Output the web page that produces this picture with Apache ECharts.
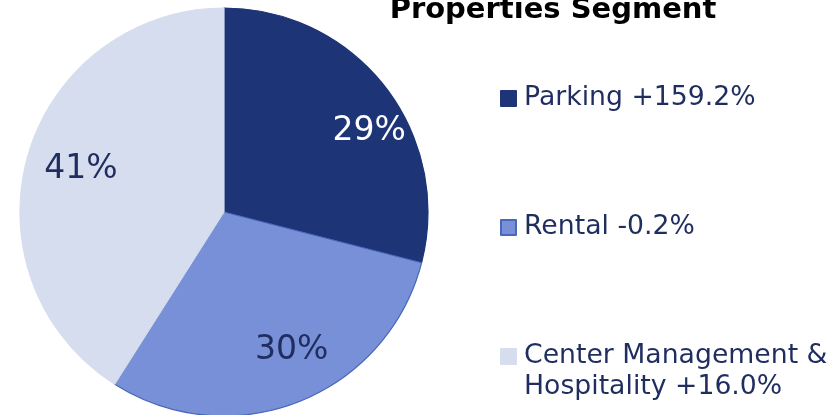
<!DOCTYPE html>
<html>
<head>
<meta charset="utf-8">
<script src="https://cdn.jsdelivr.net/npm/echarts@6/dist/echarts.min.js"></script>
<style>
  html, body { margin: 0; padding: 0; background: #fff; }
  #chart { width: 837px; height: 415px; }
</style>
</head>
<body>
<div id="chart"></div>
<script>
const titleText = 'Properties Segment';
const segments = ['Parking', 'Rental', 'Center Management & Hospitality'];
// a blank first line keeps the icon beside the first line of the last entry
const legendLabels = ['Parking +159.2%', 'Rental -0.2%', ' \nCenter Management &\nHospitality +16.0%'];
const shares = [29, 30, 41];

const colors = ['#1d3476', '#7890d8', '#d5ddee'];
const borders = ['#1d3476', '#4a68b8', '#d5ddee'];
const labelColors = ['#ffffff', '#1f2d5f', '#1f2d5f'];

const cx = 224, cy = 212, R = 204;

const myChart = echarts.init(document.getElementById('chart'));

// how far the slice labels get pushed out from the default half radius
const labelPushX = [1.75, 1.75, 1.42];
const labelPushY = [1.25, 1.42, 1.45];

const option = {
  animation: false,
  title: {
    text: titleText,
    left: 553,
    top: -4,
    padding: 0,
    textAlign: 'center',
    textStyle: { fontFamily: 'DejaVu Sans', fontWeight: 'bold', fontSize: 29, color: '#000' }
  },
  legend: {
    orient: 'vertical',
    left: 500,
    top: 52,
    padding: 0,
    icon: 'rect',
    itemWidth: 15,
    itemHeight: 15,
    itemGap: 36,
    selectedMode: false,
    formatter: name => legendLabels[segments.indexOf(name)],
    textStyle: { fontFamily: 'DejaVu Sans', fontSize: 26.7, color: '#1f2d5f', lineHeight: 31 },
    data: segments.map((n, i) => ({
      name: n,
      textStyle: { padding: i === 2 ? [0, 0, 0, 3] : [31, 0, 31, 3] }
    }))
  },
  series: [{
    type: 'pie',
    center: [cx, cy],
    radius: R,
    startAngle: 90,
    clockwise: true,
    label: {
      position: 'inside',
      formatter: '{d}%',
      fontFamily: 'DejaVu Sans',
      fontSize: 33
    },
    labelLine: { show: false },
    labelLayout: function (p) {
      const r = p.labelRect;
      const lx = r.x + r.width / 2, ly = r.y + r.height / 2;
      const i = p.dataIndex;
      return {
        x: cx + (lx - cx) * labelPushX[i],
        y: cy + (ly - cy) * labelPushY[i],
        align: 'center',
        verticalAlign: 'middle'
      };
    },
    emphasis: { disabled: true },
    data: segments.map((n, i) => ({
      name: n,
      value: shares[i],
      itemStyle: { color: colors[i], borderColor: borders[i], borderWidth: 1.2 },
      label: { color: labelColors[i] }
    }))
  }]
};

myChart.setOption(option);
</script>
</body>
</html>
